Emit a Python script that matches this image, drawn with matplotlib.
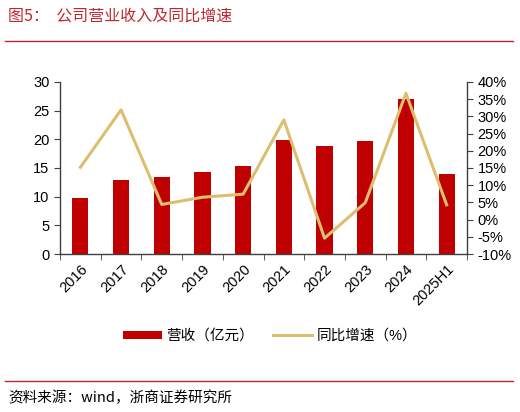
import numpy as np
import matplotlib
matplotlib.use("Agg")
from matplotlib import pyplot as plt
from matplotlib.ticker import FuncFormatter

plt.rcParams['font.family'] = ['Liberation Sans', 'Noto Sans CJK SC', 'DejaVu Sans']

# datos
anios = ["2016", "2017", "2018", "2019", "2020", "2021", "2022", "2023", "2024", "2025H1"]
ingresos = [9.8, 12.85, 13.4, 14.3, 15.35, 19.9, 18.8, 19.75, 27.0, 13.95]   # 亿元
crecimiento = [15.2, 31.9, 4.4, 6.5, 7.4, 29.0, -5.4, 4.9, 36.7, 4.3]        # %

rojo = "#C00000"
oro = "#DCBF6E"

fig = plt.figure(figsize=(5.2, 4.12), dpi=100)
W, H = 520, 412
ax = fig.add_axes([60 / W, 1 - 254 / H, (467 - 60) / W, (254 - 82) / H])
ax2 = ax.twinx()

x = np.arange(len(anios))
ax.bar(x, ingresos, width=0.4, color=rojo, zorder=2, label="营收（亿元）")
ax2.plot(x, crecimiento, color=oro, lw=2.2, zorder=3, label="同比增速（%）")

ax.set_xlim(-0.5, len(anios) - 0.5)
ax.set_ylim(0, 30)
ax.set_yticks(np.arange(0, 31, 5))
ax2.set_ylim(-10, 40)
ax2.set_yticks(np.arange(-10, 41, 5))
ax2.yaxis.set_major_formatter(FuncFormatter(lambda v, p: f"{v:.0f}%"))

ax.set_xticks(x)
ax.set_xticklabels(anios, rotation=45, ha="right", rotation_mode="anchor")
ax.set_xticks(np.arange(-0.5, len(anios)), minor=True)
ax.tick_params(axis="x", which="major", length=0, pad=6)
ax.tick_params(axis="x", which="minor", length=4, direction="out", color="#404040")

for a in (ax, ax2):
    a.tick_params(axis="y", labelsize=10.5, length=4, color="#404040", labelcolor="black")
    for s in a.spines.values():
        s.set_visible(False)
ax.tick_params(axis="x", labelsize=10.5)
ax.spines["left"].set_visible(True)
ax.spines["bottom"].set_visible(True)
ax2.spines["right"].set_visible(True)
for s in (ax.spines["left"], ax.spines["bottom"], ax2.spines["right"]):
    s.set_color("#404040")
    s.set_linewidth(1)

# leyenda
h1, l1 = ax.get_legend_handles_labels()
h2, l2 = ax2.get_legend_handles_labels()
fig.legend(h1 + h2, l1 + l2, loc="center", bbox_to_anchor=(270 / W, 1 - 336 / H),
           ncol=2, frameon=False, fontsize=10.5, handlelength=2.7, handleheight=0.45,
           columnspacing=1.3, handletextpad=0.3)

# título y fuente
fig.text(8 / W, 1 - 16 / H, "图5：  公司营业收入及同比增速", color="#C0272D",
         fontsize=11.5, va="center", ha="left", family=["Noto Sans CJK SC"])
fig.add_artist(plt.Line2D([5 / W, 513 / W], [1 - 41 / H] * 2, color="#C0272D", lw=1))
fig.add_artist(plt.Line2D([5 / W, 513 / W], [1 - 381 / H] * 2, color="#C0272D", lw=1))
fig.text(8 / W, 1 - 398 / H, "资料来源：wind，浙商证券研究所", color="black",
         fontsize=10.5, va="center", ha="left", family=["Noto Sans CJK SC", "DejaVu Sans"])

fig.savefig("out.png", dpi=100)
